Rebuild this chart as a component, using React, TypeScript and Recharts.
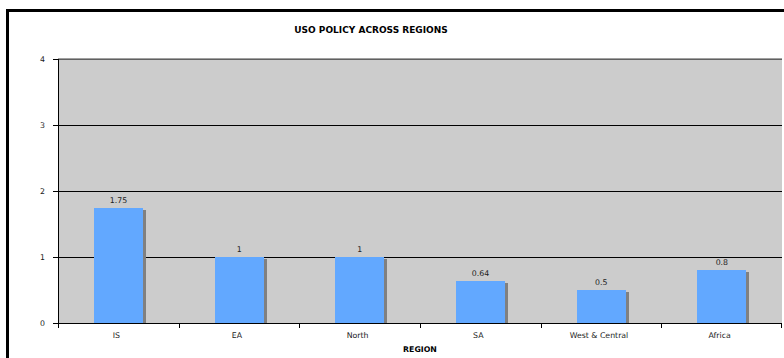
import React from 'react';
import { BarChart, Bar, XAxis, YAxis, CartesianGrid, LabelList, ReferenceLine } from 'recharts';

const categories = ['IS', 'EA', 'North', 'SA', 'West & Central', 'Africa'];
const values = [1.75, 1, 1, 0.64, 0.5, 0.8];
const yTicks = [0, 1, 2, 3, 4];

const data = categories.map((c, i) => ({ region: c, value: values[i] }));

const W = 784;
const H = 358;
const M = { top: 59, right: 2, left: 0, bottom: 0 };
const Y_W = 58;
const X_H = 35;
const PLOT_W = W - M.left - M.right - Y_W;
const BAND = PLOT_W / categories.length;
const FONT = '"DejaVu Sans", Verdana, sans-serif';

const ShadowBar = (props: any) => {
  const { x, y, width, height } = props;
  if (!height || height <= 0) return null;
  const base = y + height;
  return (
    <g shapeRendering="crispEdges">
      <rect x={x + 3} y={y + 2} width={width} height={Math.max(0, base - y - 2)} fill="#808080" />
      <rect x={x} y={y} width={width} height={height} fill="#62A8FF" />
    </g>
  );
};

const XTick = (props: any) => {
  const { x, y, payload, index } = props;
  const left = Math.round(x - BAND / 2) + 0.5;
  const right = Math.round(x + BAND / 2) - 0.5;
  return (
    <g>
      <line x1={left} y1={y} x2={left} y2={y + 5} stroke="#000" strokeWidth={1} />
      {index === categories.length - 1 && (
        <line x1={right} y1={y} x2={right} y2={y + 5} stroke="#000" strokeWidth={1} />
      )}
      <text x={x - 2} y={y + 15} textAnchor="middle" fontSize={7.8} fontFamily={FONT} fill="#222">
        {payload.value}
      </text>
    </g>
  );
};

export default function App() {
  return (
    <div style={{ position: 'absolute', left: 0, top: 0, width: W, height: H, overflow: 'hidden', background: '#fff' }}>
      <div
        style={{
          position: 'absolute',
          left: 6,
          top: 9,
          width: 900,
          height: 500,
          border: '3px solid #000',
          boxSizing: 'border-box',
        }}
      />
      <div style={{ position: 'absolute', left: 0, top: 0 }}>
        <BarChart width={W} height={H} data={data} margin={M} barCategoryGap="30%">
          <text x={371} y={33} textAnchor="middle" fontSize={9} fontWeight="bold" fontFamily={FONT} fill="#000">
            USO POLICY ACROSS REGIONS
          </text>
          <CartesianGrid fill="#CCCCCC" vertical={false} stroke="#000" strokeOpacity={1} shapeRendering="crispEdges" />
          <XAxis
            dataKey="region"
            height={X_H}
            axisLine={{ stroke: '#000', shapeRendering: 'crispEdges' }}
            tickLine={false}
            tickSize={0}
            tickMargin={0}
            interval={0}
            tick={<XTick />}
            label={{ value: 'REGION', position: 'insideBottom', offset: 6, fontSize: 7.8, fontWeight: 'bold', fontFamily: FONT, fill: '#000' }}
          />
          <YAxis
            width={Y_W}
            domain={[0, 4]}
            ticks={yTicks}
            axisLine={{ stroke: '#000', shapeRendering: 'crispEdges' }}
            tickLine={{ stroke: '#000', shapeRendering: 'crispEdges' }}
            tickSize={5}
            tickMargin={8}
            tick={{ fontSize: 7.8, fontFamily: FONT, fill: '#222' }}
          />
          <YAxis yAxisId="r" orientation="right" width={0} domain={[0, 4]} tick={false} tickLine={false} axisLine={{ stroke: '#808080', strokeWidth: 2 }} />
          <ReferenceLine y={4} stroke="#808080" strokeWidth={1.5} />
          <Bar dataKey="value" isAnimationActive={false} barSize={49} shape={<ShadowBar />}>
            <LabelList dataKey="value" position="top" offset={5} fontSize={7.8} fontFamily={FONT} fill="#222" />
          </Bar>
        </BarChart>
      </div>
    </div>
  );
}
